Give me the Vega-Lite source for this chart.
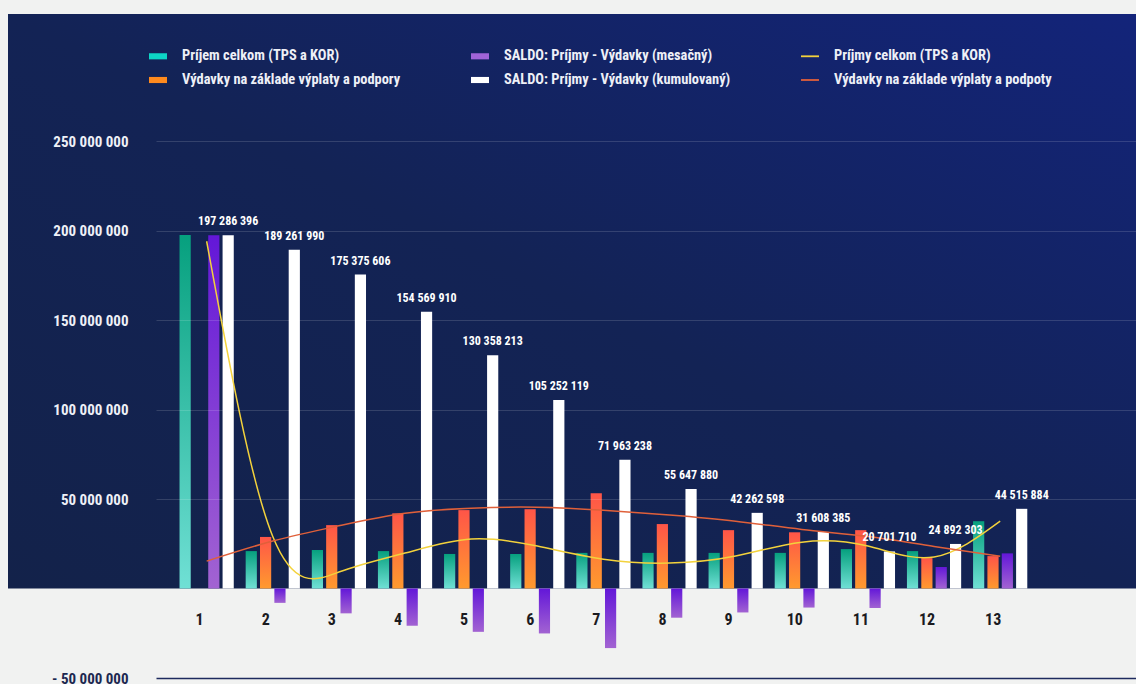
{
  "$schema": "https://vega.github.io/schema/vega-lite/v6.json",
  "width": 1128,
  "height": 664,
  "autosize": {"type": "none"},
  "padding": {"left": 8, "top": 14, "right": 0, "bottom": 6},
  "background": "#f1f2f1",
  "config": {
    "view": {"stroke": null},
    "font": "Roboto Condensed, Roboto",
    "locale": {"number": {"decimal": ",", "thousands": " ", "grouping": [3], "currency": ["", " €"], "minus": "-"}},
    "legend": {
      "orient": "none",
      "legendX": 141,
      "legendY": 33,
      "columns": 3,
      "direction": "vertical",
      "columnPadding": 70,
      "rowPadding": 8,
      "gridAlign": "each",
      "padding": 0,
      "symbolSize": 324,
      "symbolStrokeWidth": 0,
      "labelOffset": 15,
      "labelFont": "Roboto Condensed, Roboto",
      "labelFontSize": 14.4,
      "labelFontWeight": "bold",
      "labelColor": "#eef0f7",
      "labelLimit": 400,
      "title": null
    }
  },
  "datasets": {
    "bars": [
      {"cat": 1, "series": "Príjem celkom (TPS a KOR)", "value": 197500000},
      {"cat": 1, "series": "Výdavky na základe výplaty a podpory", "value": 0},
      {"cat": 1, "series": "SALDO: Príjmy - Výdavky (mesačný)", "value": 197286396},
      {"cat": 1, "series": "SALDO: Príjmy - Výdavky (kumulovaný)", "value": 197286396},
      {"cat": 2, "series": "Príjem celkom (TPS a KOR)", "value": 20900000},
      {"cat": 2, "series": "Výdavky na základe výplaty a podpory", "value": 28800000},
      {"cat": 2, "series": "SALDO: Príjmy - Výdavky (mesačný)", "value": -8024406},
      {"cat": 2, "series": "SALDO: Príjmy - Výdavky (kumulovaný)", "value": 189261990},
      {"cat": 3, "series": "Príjem celkom (TPS a KOR)", "value": 21500000},
      {"cat": 3, "series": "Výdavky na základe výplaty a podpory", "value": 35400000},
      {"cat": 3, "series": "SALDO: Príjmy - Výdavky (mesačný)", "value": -13886384},
      {"cat": 3, "series": "SALDO: Príjmy - Výdavky (kumulovaný)", "value": 175375606},
      {"cat": 4, "series": "Príjem celkom (TPS a KOR)", "value": 20900000},
      {"cat": 4, "series": "Výdavky na základe výplaty a podpory", "value": 42000000},
      {"cat": 4, "series": "SALDO: Príjmy - Výdavky (mesačný)", "value": -20805696},
      {"cat": 4, "series": "SALDO: Príjmy - Výdavky (kumulovaný)", "value": 154569910},
      {"cat": 5, "series": "Príjem celkom (TPS a KOR)", "value": 19300000},
      {"cat": 5, "series": "Výdavky na základe výplaty a podpory", "value": 43800000},
      {"cat": 5, "series": "SALDO: Príjmy - Výdavky (mesačný)", "value": -24211697},
      {"cat": 5, "series": "SALDO: Príjmy - Výdavky (kumulovaný)", "value": 130358213},
      {"cat": 6, "series": "Príjem celkom (TPS a KOR)", "value": 19300000},
      {"cat": 6, "series": "Výdavky na základe výplaty a podpory", "value": 44300000},
      {"cat": 6, "series": "SALDO: Príjmy - Výdavky (mesačný)", "value": -25106094},
      {"cat": 6, "series": "SALDO: Príjmy - Výdavky (kumulovaný)", "value": 105252119},
      {"cat": 7, "series": "Príjem celkom (TPS a KOR)", "value": 19900000},
      {"cat": 7, "series": "Výdavky na základe výplaty a podpory", "value": 53200000},
      {"cat": 7, "series": "SALDO: Príjmy - Výdavky (mesačný)", "value": -33288881},
      {"cat": 7, "series": "SALDO: Príjmy - Výdavky (kumulovaný)", "value": 71963238},
      {"cat": 8, "series": "Príjem celkom (TPS a KOR)", "value": 19900000},
      {"cat": 8, "series": "Výdavky na základe výplaty a podpory", "value": 36000000},
      {"cat": 8, "series": "SALDO: Príjmy - Výdavky (mesačný)", "value": -16315358},
      {"cat": 8, "series": "SALDO: Príjmy - Výdavky (kumulovaný)", "value": 55647880},
      {"cat": 9, "series": "Príjem celkom (TPS a KOR)", "value": 19900000},
      {"cat": 9, "series": "Výdavky na základe výplaty a podpory", "value": 32600000},
      {"cat": 9, "series": "SALDO: Príjmy - Výdavky (mesačný)", "value": -13385282},
      {"cat": 9, "series": "SALDO: Príjmy - Výdavky (kumulovaný)", "value": 42262598},
      {"cat": 10, "series": "Príjem celkom (TPS a KOR)", "value": 19900000},
      {"cat": 10, "series": "Výdavky na základe výplaty a podpory", "value": 31400000},
      {"cat": 10, "series": "SALDO: Príjmy - Výdavky (mesačný)", "value": -10654213},
      {"cat": 10, "series": "SALDO: Príjmy - Výdavky (kumulovaný)", "value": 31608385},
      {"cat": 11, "series": "Príjem celkom (TPS a KOR)", "value": 22000000},
      {"cat": 11, "series": "Výdavky na základe výplaty a podpory", "value": 32600000},
      {"cat": 11, "series": "SALDO: Príjmy - Výdavky (mesačný)", "value": -10906675},
      {"cat": 11, "series": "SALDO: Príjmy - Výdavky (kumulovaný)", "value": 20701710},
      {"cat": 12, "series": "Príjem celkom (TPS a KOR)", "value": 20900000},
      {"cat": 12, "series": "Výdavky na základe výplaty a podpory", "value": 17000000},
      {"cat": 12, "series": "SALDO: Príjmy - Výdavky (mesačný)", "value": 12000000},
      {"cat": 12, "series": "SALDO: Príjmy - Výdavky (kumulovaný)", "value": 24892303},
      {"cat": 13, "series": "Príjem celkom (TPS a KOR)", "value": 37600000},
      {"cat": 13, "series": "Výdavky na základe výplaty a podpory", "value": 18100000},
      {"cat": 13, "series": "SALDO: Príjmy - Výdavky (mesačný)", "value": 19623581},
      {"cat": 13, "series": "SALDO: Príjmy - Výdavky (kumulovaný)", "value": 44515884}
    ],
    "lines": [
      {"cat": 1, "series": "Príjmy celkom (TPS a KOR)", "value": 194000000},
      {"cat": 2, "series": "Príjmy celkom (TPS a KOR)", "value": 29000000},
      {"cat": 3, "series": "Príjmy celkom (TPS a KOR)", "value": 9200000},
      {"cat": 4, "series": "Príjmy celkom (TPS a KOR)", "value": 19800000},
      {"cat": 5, "series": "Príjmy celkom (TPS a KOR)", "value": 27600000},
      {"cat": 6, "series": "Príjmy celkom (TPS a KOR)", "value": 23700000},
      {"cat": 7, "series": "Príjmy celkom (TPS a KOR)", "value": 16400000},
      {"cat": 8, "series": "Príjmy celkom (TPS a KOR)", "value": 14200000},
      {"cat": 9, "series": "Príjmy celkom (TPS a KOR)", "value": 18100000},
      {"cat": 10, "series": "Príjmy celkom (TPS a KOR)", "value": 25900000},
      {"cat": 11, "series": "Príjmy celkom (TPS a KOR)", "value": 23700000},
      {"cat": 12, "series": "Príjmy celkom (TPS a KOR)", "value": 17600000},
      {"cat": 13, "series": "Príjmy celkom (TPS a KOR)", "value": 37600000},
      {"cat": 1, "series": "Výdavky na základe výplaty a podpoty", "value": 15300000},
      {"cat": 2, "series": "Výdavky na základe výplaty a podpoty", "value": 26500000},
      {"cat": 3, "series": "Výdavky na základe výplaty a podpoty", "value": 35000000},
      {"cat": 4, "series": "Výdavky na základe výplaty a podpoty", "value": 42000000},
      {"cat": 5, "series": "Výdavky na základe výplaty a podpoty", "value": 44900000},
      {"cat": 6, "series": "Výdavky na základe výplaty a podpoty", "value": 45400000},
      {"cat": 7, "series": "Výdavky na základe výplaty a podpoty", "value": 43700000},
      {"cat": 8, "series": "Výdavky na základe výplaty a podpoty", "value": 41000000},
      {"cat": 9, "series": "Výdavky na základe výplaty a podpoty", "value": 37600000},
      {"cat": 10, "series": "Výdavky na základe výplaty a podpoty", "value": 33000000},
      {"cat": 11, "series": "Výdavky na základe výplaty a podpoty", "value": 29000000},
      {"cat": 12, "series": "Výdavky na základe výplaty a podpoty", "value": 23500000},
      {"cat": 13, "series": "Výdavky na základe výplaty a podpoty", "value": 18000000}
    ]
  },
  "resolve": {"scale": {"x": "independent"}},
  "layer": [
    {
      "data": {"values": [{}]},
      "mark": {
        "type": "rect",
        "fill": {"gradient": "linear", "x1": 0, "y1": 1, "x2": 1, "y2": 0,
          "stops": [{"offset": 0, "color": "#13224a"}, {"offset": 0.5, "color": "#132355"}, {"offset": 1, "color": "#13247a"}]}
      },
      "encoding": {
        "y": {"datum": 320950000, "type": "quantitative",
          "scale": {"domain": [-50000000, 320950000], "nice": false, "zero": false},
          "axis": {
            "title": null,
            "zindex": 1,
            "values": [-50000000, 0, 50000000, 100000000, 150000000, 200000000, 250000000],
            "labelExpr": "datum.value === 0 ? '' : (datum.value < 0 ? '- ' + format(-datum.value, ',') : format(datum.value, ','))",
            "ticks": false,
            "tickSize": 0,
            "domain": false,
            "labelPadding": -120,
            "labelFont": "Roboto Condensed, Roboto",
            "labelFontSize": 15,
            "labelFontWeight": "bold",
            "labelColor": {"condition": {"test": "datum.value < 0", "value": "#1c2850"}, "value": "#eef0f7"},
            "grid": true,
            "gridColor": {"condition": {"test": "datum.value <= 0", "value": "transparent"}, "value": "rgba(255,255,255,0.14)"},
            "gridWidth": 1
          }
        },
        "y2": {"datum": 0}
      }
    },
    {
      "encoding": {
        "x": {"field": "cat", "type": "ordinal",
          "scale": {"type": "band", "range": [148, 1128], "paddingInner": 0.18, "paddingOuter": 1.024, "align": 0.178},
          "axis": {
            "title": null, "labelAngle": 0, "ticks": false, "tickSize": 0, "grid": false,
            "domain": true, "domainColor": "#1e2b5e", "domainWidth": 1.5,
            "labelPadding": -59, "labelBaseline": "middle", "labelOffset": -7,
            "labelFont": "Roboto Condensed, Roboto", "labelFontSize": 16, "labelFontWeight": "bold", "labelColor": "#1b1b1f"
          }
        },
        "y": {"field": "value", "type": "quantitative", "title": null,
          "scale": {"domain": [-50000000, 320950000], "nice": false, "zero": false}}
      },
      "layer": [
        {
          "data": {"name": "bars"},
          "transform": [{"filter": "datum.series === 'Príjem celkom (TPS a KOR)'"}],
          "mark": {"type": "bar",
            "fill": {"gradient": "linear", "x1": 0, "y1": 0, "x2": 0, "y2": 1, "stops": [{"offset": 0, "color": "#06a07e"}, {"offset": 1, "color": "#70e0d5"}]}},
          "encoding": {
            "xOffset": {"field": "series", "type": "nominal",
              "scale": {"domain": ["Príjem celkom (TPS a KOR)", "Výdavky na základe výplaty a podpory", "SALDO: Príjmy - Výdavky (mesačný)", "SALDO: Príjmy - Výdavky (kumulovaný)"], "paddingInner": 0.22, "paddingOuter": 0}
            }
          }
        },
        {
          "data": {"name": "bars"},
          "transform": [{"filter": "datum.series === 'Výdavky na základe výplaty a podpory'"}],
          "mark": {"type": "bar",
            "fill": {"gradient": "linear", "x1": 0, "y1": 0, "x2": 0, "y2": 1, "stops": [{"offset": 0, "color": "#ff5548"}, {"offset": 1, "color": "#ff9a2e"}]}},
          "encoding": {"xOffset": {"field": "series", "type": "nominal"}}
        },
        {
          "data": {"name": "bars"},
          "transform": [{"filter": "datum.series === 'SALDO: Príjmy - Výdavky (mesačný)'"}],
          "mark": {"type": "bar",
            "fill": {"gradient": "linear", "x1": 0, "y1": 0, "x2": 0, "y2": 1, "stops": [{"offset": 0, "color": "#6317d8"}, {"offset": 1, "color": "#a263d2"}]}},
          "encoding": {"xOffset": {"field": "series", "type": "nominal"}}
        },
        {
          "data": {"name": "bars"},
          "transform": [{"filter": "datum.series === 'SALDO: Príjmy - Výdavky (kumulovaný)'"}],
          "mark": {"type": "bar", "fill": "#ffffff"},
          "encoding": {"xOffset": {"field": "series", "type": "nominal"}}
        },
        {
          "data": {"name": "lines"},
          "mark": {"type": "line", "interpolate": "natural", "strokeWidth": 1.5},
          "encoding": {
            "color": {"field": "series", "type": "nominal",
              "scale": {
                "domain": ["Príjem celkom (TPS a KOR)", "Výdavky na základe výplaty a podpory", "SALDO: Príjmy - Výdavky (mesačný)", "SALDO: Príjmy - Výdavky (kumulovaný)", "Príjmy celkom (TPS a KOR)", "Výdavky na základe výplaty a podpoty"],
                "range": ["#0dd6c6", "#ff8a1e", "#a064d8", "#ffffff", "#f3d23c", "#e0603a"]
              },
              "legend": {
                "values": ["Príjem celkom (TPS a KOR)", "Výdavky na základe výplaty a podpory", "SALDO: Príjmy - Výdavky (mesačný)", "SALDO: Príjmy - Výdavky (kumulovaný)", "Príjmy celkom (TPS a KOR)", "Výdavky na základe výplaty a podpoty"],
                "encode": {"symbols": {"update": {
                  "fill": {"scale": "color", "field": "value"},
                  "stroke": {"value": "transparent"},
                  "strokeWidth": {"value": 0},
                  "opacity": {"value": 1},
                  "shape": {"signal": "(datum.value === 'Príjmy celkom (TPS a KOR)' || datum.value === 'Výdavky na základe výplaty a podpoty') ? 'M-1,-0.1H1V0.1H-1Z' : 'M-1,-0.34H1V0.34H-1Z'"}
                }}}
              }
            }
          }
        },
        {
          "data": {"name": "bars"},
          "transform": [{"filter": "datum.series === 'SALDO: Príjmy - Výdavky (kumulovaný)'"}],
          "mark": {"type": "text", "baseline": "alphabetic", "dy": -10, "font": "Roboto Condensed, Roboto", "fontSize": 12, "fontWeight": "bold", "color": "#ffffff"},
          "encoding": {
            "xOffset": {"field": "series", "type": "nominal"},
            "text": {"field": "value", "type": "quantitative", "format": ","}
          }
        }
      ]
    }
  ]
}
